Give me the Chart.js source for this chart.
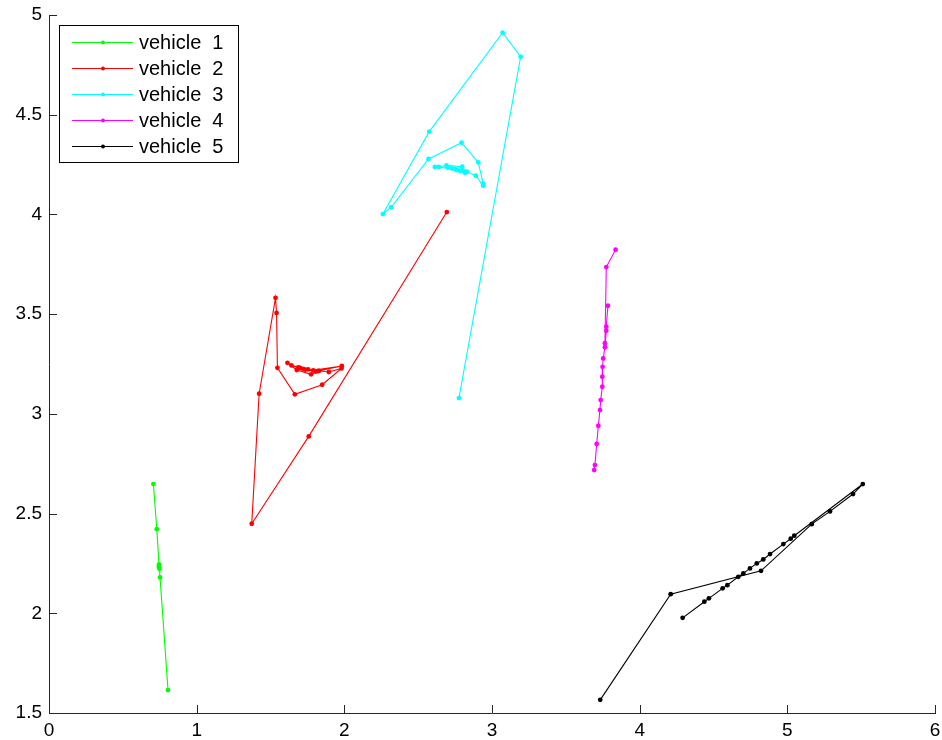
<!DOCTYPE html>
<html>
<head>
<meta charset="utf-8">
<script src="https://cdn.jsdelivr.net/npm/chart.js@4/dist/chart.umd.min.js"></script>
<style>
html,body{margin:0;padding:0;background:#fff;}
#wrap{width:942px;height:740px;position:relative;}
</style>
</head>
<body>
<div id="wrap"><canvas id="c" width="942" height="740"></canvas></div>
<script>
// ---- data ----
const seriesLabels = ["vehicle  1", "vehicle  2", "vehicle  3", "vehicle  4", "vehicle  5"];
const seriesColors = ["#00ff00", "#ff0000", "#00ffff", "#ff00ff", "#000000"];

const v1x = [0.707, 0.730, 0.745, 0.744, 0.748, 0.752, 0.806];
const v1y = [2.648, 2.422, 2.245, 2.233, 2.223, 2.180, 1.615];

const v2x = [2.694, 1.759, 1.373, 1.423, 1.534, 1.541, 1.547, 1.665, 1.850, 1.981, 1.895, 1.829, 1.775, 1.678, 1.615, 1.642, 1.688, 1.755, 1.823, 1.983, 1.789, 1.721, 1.700, 1.735, 1.805];
const v2y = [4.012, 2.887, 2.449, 3.101, 3.582, 3.506, 3.231, 3.098, 3.146, 3.228, 3.210, 3.216, 3.198, 3.220, 3.256, 3.243, 3.233, 3.223, 3.215, 3.240, 3.218, 3.226, 3.230, 3.222, 3.212];

const v3x = [2.776, 3.194, 3.072, 2.575, 2.261, 2.317, 2.570, 2.794, 2.907, 2.940, 2.940, 2.891, 2.830, 2.783, 2.726, 2.613, 2.640, 2.692, 2.798, 2.817, 2.760, 2.700, 2.745, 2.805];
const v3y = [3.079, 4.791, 4.911, 4.415, 4.002, 4.036, 4.278, 4.360, 4.261, 4.156, 4.144, 4.194, 4.214, 4.219, 4.231, 4.238, 4.238, 4.246, 4.239, 4.209, 4.223, 4.235, 4.228, 4.220];

const v4x = [3.837, 3.774, 3.765, 3.785, 3.774, 3.774, 3.765, 3.753, 3.749, 3.747, 3.747, 3.736, 3.731, 3.720, 3.709, 3.697, 3.692];
const v4y = [3.823, 3.736, 3.354, 3.542, 3.437, 3.417, 3.334, 3.278, 3.236, 3.186, 3.136, 3.069, 3.019, 2.940, 2.849, 2.743, 2.718];

const v5x = [3.733, 4.210, 4.822, 5.165, 5.289, 5.445, 5.511, 5.047, 5.023, 4.973, 4.883, 4.837, 4.793, 4.747, 4.702, 4.668, 4.594, 4.562, 4.469, 4.438, 4.291];
const v5y = [1.566, 2.096, 2.213, 2.447, 2.511, 2.598, 2.648, 2.389, 2.374, 2.347, 2.297, 2.270, 2.250, 2.225, 2.200, 2.183, 2.141, 2.125, 2.075, 2.058, 1.977];

const xTicks = [0, 1, 2, 3, 4, 5, 6];
const yTicks = [1.5, 2, 2.5, 3, 3.5, 4, 4.5, 5];

// ---- build ----
const allX = [v1x, v2x, v3x, v4x, v5x];
const allY = [v1y, v2y, v3y, v4y, v5y];
const datasets = allX.map((xs, i) => ({
  label: seriesLabels[i],
  data: xs.map((x, k) => ({x: x, y: allY[i][k]})),
  showLine: true,
  borderColor: seriesColors[i],
  backgroundColor: seriesColors[i],
  borderWidth: 1.1,
  pointRadius: 2.4,
  pointBorderWidth: 0,
  pointHoverRadius: 2.4,
  tension: 0
}));

const FONT = "'Liberation Sans', Arial, sans-serif";

const inwardTicks = {
  id: 'inwardTicks',
  afterDraw(chart) {
    const ctx = chart.ctx, xs = chart.scales.x, ys = chart.scales.y;
    const a = chart.chartArea;
    ctx.save();
    ctx.strokeStyle = '#262626';
    ctx.lineWidth = 1;
    ctx.beginPath();
    xTicks.forEach(v => {
      const p = Math.round(xs.getPixelForValue(v)) + 0.5;
      ctx.moveTo(p, a.bottom); ctx.lineTo(p, a.bottom - 8);
    });
    yTicks.forEach(v => {
      const p = Math.round(ys.getPixelForValue(v)) + 0.5;
      ctx.moveTo(a.left, p); ctx.lineTo(a.left + 8, p);
    });
    ctx.stroke();
    ctx.restore();
  }
};

const boxLegend = {
  id: 'boxLegend',
  afterDraw(chart) {
    const ctx = chart.ctx;
    const bx = 59.5, by = 25.5, bw = 179, bh = 137;
    ctx.save();
    ctx.fillStyle = '#fff';
    ctx.fillRect(bx, by, bw, bh);
    ctx.strokeStyle = '#000';
    ctx.lineWidth = 1;
    ctx.strokeRect(bx, by, bw, bh);
    ctx.font = '20px ' + FONT;
    ctx.textBaseline = 'middle';
    ctx.textAlign = 'left';
    chart.data.datasets.forEach((ds, i) => {
      const yy = 42.5 + i * 26;
      ctx.strokeStyle = ds.borderColor;
      ctx.beginPath();
      ctx.moveTo(72, yy); ctx.lineTo(133, yy);
      ctx.stroke();
      ctx.fillStyle = ds.borderColor;
      ctx.beginPath();
      ctx.arc(103, yy, 2, 0, Math.PI * 2);
      ctx.fill();
      ctx.fillStyle = '#000';
      ctx.fillText(ds.label, 139, yy + 1);
    });
    ctx.restore();
  }
};

new Chart(document.getElementById('c'), {
  type: 'scatter',
  data: {datasets: datasets},
  options: {
    responsive: false,
    animation: false,
    events: [],
    layout: {padding: {top: 15, right: 7, left: 0, bottom: 0}},
    plugins: {legend: {display: false}, tooltip: {enabled: false}},
    scales: {
      x: {
        type: 'linear', min: 0, max: 6,
        afterBuildTicks: s => { s.ticks = xTicks.map(v => ({value: v})); },
        afterFit: s => { s.height = 27; s.paddingLeft = 0; s.paddingRight = 0; },
        grid: {display: false, drawTicks: false},
        border: {display: true, color: '#262626', width: 1},
        ticks: {color: '#000', font: {family: FONT, size: 19}, padding: 6, callback: v => String(v), maxRotation: 0}
      },
      y: {
        type: 'linear', min: 1.5, max: 5,
        afterBuildTicks: s => { s.ticks = yTicks.map(v => ({value: v})); },
        afterFit: s => { s.width = 49; s.paddingTop = 0; s.paddingBottom = 0; },
        grid: {display: false, drawTicks: false},
        border: {display: true, color: '#262626', width: 1},
        ticks: {color: '#000', font: {family: FONT, size: 19}, padding: 7, callback: v => String(v)}
      }
    }
  },
  plugins: [inwardTicks, boxLegend]
});
</script>
</body>
</html>
